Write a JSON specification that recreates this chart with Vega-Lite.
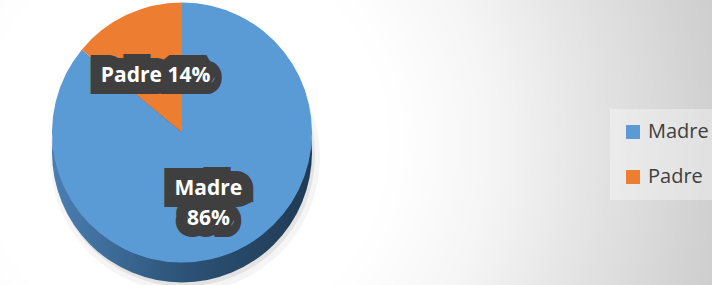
{
  "$schema": "https://vega.github.io/schema/vega-lite/v6.json",
  "width": 364,
  "height": 285,
  "autosize": "none",
  "padding": {"left": 0, "top": 0, "right": 348, "bottom": 0},
  "background": "#ffffff",
  "config": {"view": {"stroke": null}},
  "data": {"values": [
    {"name": "Madre", "pct": 86, "label": "Madre\n86%"},
    {"name": "Padre", "pct": 14, "label": "Padre 14%"}
  ]},
  "layer": [
    {
      "transform": [{"aggregate": [{"op": "count", "as": "n"}]}],
      "mark": {"type": "arc", "radius": 620, "theta": 0, "theta2": 6.2832,
        "fill": {"gradient": "radial", "x1": 0.5, "y1": 0.5, "r1": 0, "x2": 0.5, "y2": 0.5, "r2": 0.5,
          "stops": [
            {"offset": 0, "color": "#ffffff"},
            {"offset": 0.33, "color": "#ffffff"},
            {"offset": 0.5, "color": "#f5f5f5"},
            {"offset": 0.67, "color": "#e3e3e3"},
            {"offset": 0.85, "color": "#d1d1d1"},
            {"offset": 1, "color": "#c4c4c4"}
          ]}},
      "encoding": {}
    },
    {
      "transform": [{"aggregate": [{"op": "count", "as": "n"}]}],
      "mark": {"type": "arc", "radius": 135, "theta": 0, "theta2": 6.2832, "yOffset": 15, "xOffset": 3, "fill": "#000000", "opacity": 0.04},
      "encoding": {}
    },
    {
      "transform": [{"aggregate": [{"op": "count", "as": "n"}]}],
      "mark": {"type": "arc", "radius": 131, "theta": 0, "theta2": 6.2832, "yOffset": 13, "xOffset": 2, "fill": "#000000", "opacity": 0.07},
      "encoding": {}
    },
    {
      "transform": [{"aggregate": [{"op": "count", "as": "n"}]}],
      "mark": {"type": "arc", "radius": 130, "theta": 0, "theta2": 6.2832, "yOffset": 10,
        "fill": {"gradient": "linear", "x1": 0, "y1": 0, "x2": 1, "y2": 0,
          "stops": [
            {"offset": 0, "color": "#4a7fb3"},
            {"offset": 0.5, "color": "#2d5377"},
            {"offset": 1, "color": "#1f3a53"}
          ]}},
      "encoding": {}
    },
    {
      "mark": {"type": "arc", "radius": 130, "yOffset": -10},
      "encoding": {
        "theta": {"field": "pct", "type": "quantitative", "stack": true},
        "order": {"field": "pct", "sort": "descending"},
        "color": {"field": "name", "type": "nominal",
          "scale": {"domain": ["Madre", "Padre"], "range": ["#5b9bd5", "#ed7d31"]},
          "legend": {"orient": "none", "legendX": 610, "legendY": 109, "title": null,
            "symbolType": "square", "symbolSize": 196, "symbolStrokeWidth": 0,
            "labelFontSize": 20, "labelFont": "Open Sans", "labelColor": "#404040",
            "rowPadding": 25, "padding": 13, "fillColor": "rgba(255,255,255,0.35)", "labelOffset": 5}}
      }
    },
    {
      "mark": {"type": "text", "radius": 62, "yOffset": -10, "font": "Open Sans", "fontWeight": "bold", "fontSize": 21,
        "lineBreak": "\n", "lineHeight": 30, "align": "center", "baseline": "middle",
        "fill": "#3f3f3f", "stroke": "#3f3f3f", "strokeWidth": 24, "strokeJoin": "miter", "strokeMiterLimit": 1.5},
      "encoding": {
        "theta": {"field": "pct", "type": "quantitative", "stack": true},
        "order": {"field": "pct", "sort": "descending"},
        "detail": {"field": "name"},
        "text": {"field": "label"}
      }
    },
    {
      "mark": {"type": "text", "radius": 62, "yOffset": -10, "font": "Open Sans", "fontWeight": "bold", "fontSize": 21,
        "lineBreak": "\n", "lineHeight": 30, "align": "center", "baseline": "middle", "fill": "#ffffff"},
      "encoding": {
        "theta": {"field": "pct", "type": "quantitative", "stack": true},
        "order": {"field": "pct", "sort": "descending"},
        "detail": {"field": "name"},
        "text": {"field": "label"}
      }
    }
  ]
}
